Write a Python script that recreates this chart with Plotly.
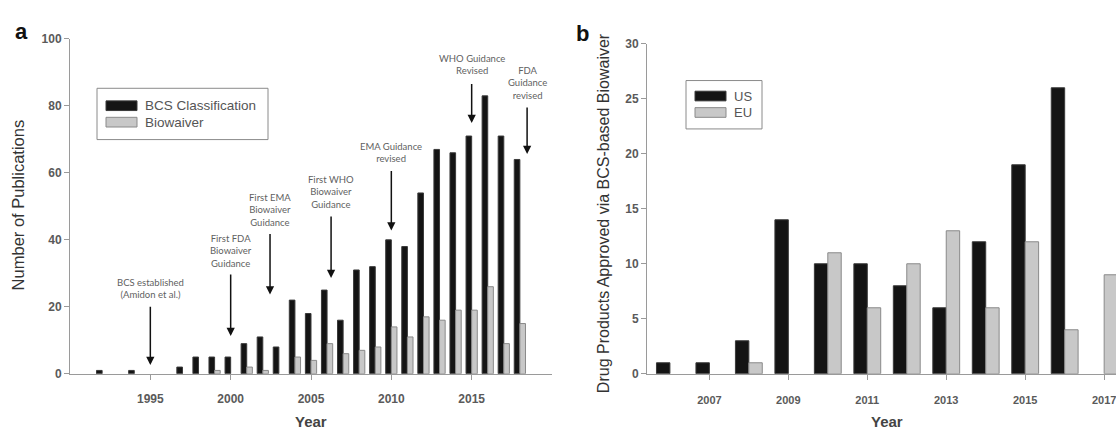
import plotly.graph_objects as go

W, H = 1116, 434

# ---------------- Panel a data ----------------
years_a = [1992, 1993, 1994, 1995, 1996, 1997, 1998, 1999, 2000, 2001, 2002, 2003, 2004,
           2005, 2006, 2007, 2008, 2009, 2010, 2011, 2012, 2013, 2014, 2015, 2016, 2017, 2018]
bcs_classification = [1, 0, 1, 0, 0, 2, 5, 5, 5, 9, 11, 8, 22,
                      18, 25, 16, 31, 32, 40, 38, 54, 67, 66, 71, 83, 71, 64]
biowaiver = [0, 0, 0, 0, 0, 0, 0, 1, 0, 2, 1, 0, 5,
             4, 9, 6, 7, 8, 14, 11, 17, 16, 19, 19, 26, 9, 15]
xticks_a = [1995, 2000, 2005, 2010, 2015]
yticks_a = [0, 20, 40, 60, 80, 100]

# events: label, x year, arrow tail value, arrow tip value, label centre value
event_labels = ["BCS established<br>(Amidon et al.)",
                "First FDA<br>Biowaiver<br>Guidance",
                "First EMA<br>Biowaiver<br>Guidance",
                "First WHO<br>Biowaiver<br>Guidance",
                "EMA Guidance<br>revised",
                "WHO Guidance<br>Revised",
                "FDA<br>Guidance<br>revised"]
event_x = [1995, 2000, 2002.45, 2006.25, 2010, 2015, 2018.45]
event_tail = [20.5, 30.1, 42.2, 47.4, 61.0, 87.0, 80.0]
event_tip = [2.6, 11.3, 23.7, 28.6, 42.8, 74.9, 65.6]
event_text_y = [25.4, 36.6, 49.0, 54.2, 66.0, 92.3, 86.9]

# ---------------- Panel b data ----------------
years_b = [2006, 2007, 2008, 2009, 2010, 2011, 2012, 2013, 2014, 2015, 2016, 2017]
us = [1, 1, 3, 14, 10, 10, 8, 6, 12, 19, 26, 0]
eu = [0, 0, 1, 0, 11, 6, 10, 13, 6, 12, 4, 9]
xticks_b = [2007, 2009, 2011, 2013, 2015, 2017]
yticks_b = [0, 5, 10, 15, 20, 25, 30]

BLACK = "#141414"
BLACK_LINE = "#3a3a3a"
GRAY = "#c8c8c8"
GRAY_LINE = "#8a8a8a"
AXIS = "#9a9a9a"
TICKTXT = "#5a5a5a"
FONT = "Liberation Sans, Arial, sans-serif"


def px_x(p):
    return p / W


def px_y(p):
    return 1 - p / H


def outline(vals):
    return [1 if v else 0 for v in vals]


fig = go.Figure()

bw = 0.35
fig.add_trace(go.Bar(x=years_a, y=bcs_classification, width=bw, offset=-bw,
                     marker=dict(color=BLACK, line=dict(color=BLACK_LINE,
                                                        width=outline(bcs_classification))),
                     xaxis="x", yaxis="y", name="BCS Classification", showlegend=False))
fig.add_trace(go.Bar(x=years_a, y=biowaiver, width=bw, offset=0,
                     marker=dict(color=GRAY, line=dict(color=GRAY_LINE,
                                                       width=outline(biowaiver))),
                     xaxis="x", yaxis="y", name="Biowaiver", showlegend=False))

bwb = 0.34
fig.add_trace(go.Bar(x=years_b, y=us, width=bwb, offset=-bwb,
                     marker=dict(color=BLACK, line=dict(color=BLACK_LINE, width=outline(us))),
                     xaxis="x2", yaxis="y2", name="US", showlegend=False))
fig.add_trace(go.Bar(x=years_b, y=eu, width=bwb, offset=0,
                     marker=dict(color=GRAY, line=dict(color=GRAY_LINE, width=outline(eu))),
                     xaxis="x2", yaxis="y2", name="EU", showlegend=False))

y_dom_a = [px_y(379), px_y(33)]
y_dom_b = [px_y(379), px_y(38)]

axis_common = dict(showline=True, linecolor=AXIS, linewidth=1, ticks="outside",
                   ticklen=5, tickcolor=AXIS, showgrid=False, zeroline=False)


def tf(size):
    return dict(family=FONT, size=size, color=TICKTXT, weight="bold")


fig.update_layout(
    width=W, height=H,
    margin=dict(l=0, r=0, t=0, b=0),
    paper_bgcolor="white", plot_bgcolor="white",
    barmode="overlay",
    showlegend=False,
    xaxis=dict(domain=[px_x(70), px_x(552)], range=[1990, 2020], anchor="y",
               tickmode="array", tickvals=xticks_a, tickfont=tf(12),
               ticklabelstandoff=9, **axis_common),
    yaxis=dict(domain=y_dom_a, range=[0, 100], anchor="x",
               tickmode="array", tickvals=yticks_a, tickfont=tf(12), **axis_common),
    xaxis2=dict(domain=[px_x(647), 1.0], range=[2005.42, 2017.3], anchor="y2",
                tickmode="array", tickvals=xticks_b,
                ticktext=[str(t) if t != 2017 else "" for t in xticks_b],
                tickfont=tf(11), ticklabelstandoff=11, **axis_common),
    yaxis2=dict(domain=y_dom_b, range=[0, 30], anchor="x2",
                tickmode="array", tickvals=yticks_b, tickfont=tf(12), **axis_common),
)

annotations = []
shapes = []

# last tick label of panel b (runs past the right edge, as in the original)
annotations.append(dict(x=xticks_b[-1], y=px_y(406), xref="x2", yref="paper",
                        text=str(xticks_b[-1]), showarrow=False, xanchor="center",
                        yanchor="middle", font=tf(11)))

# event arrows and labels (panel a)
for lab, xv, tail, tip, ty in zip(event_labels, event_x, event_tail, event_tip, event_text_y):
    annotations.append(dict(x=xv, y=tip, ax=xv, ay=tail, xref="x", yref="y",
                            axref="x", ayref="y", text="", showarrow=True,
                            arrowhead=2, arrowsize=1.1, arrowwidth=1.5, arrowcolor="#111",
                            standoff=0))
    annotations.append(dict(x=xv, y=ty, xref="x", yref="y", text=lab, showarrow=False,
                            xanchor="center", yanchor="middle", align="center",
                            font=dict(family="Lato, Open Sans, sans-serif", size=9.5,
                                      color="#5f5f5f")))

# panel letters
annotations.append(dict(x=px_x(21), y=px_y(25), xref="paper", yref="paper", text="<b>a</b>",
                        showarrow=False, xanchor="center", yanchor="middle",
                        font=dict(family=FONT, size=22, color="#111")))
annotations.append(dict(x=px_x(582), y=px_y(27), xref="paper", yref="paper", text="<b>b</b>",
                        showarrow=False, xanchor="center", yanchor="middle",
                        font=dict(family=FONT, size=22, color="#111")))

# axis titles
annotations.append(dict(x=px_x(18), y=px_y(205), xref="paper", yref="paper",
                        text="Number of Publications", textangle=-90, showarrow=False,
                        xanchor="center", yanchor="middle",
                        font=dict(family=FONT, size=16.5, color="#333")))
annotations.append(dict(x=px_x(603), y=px_y(213), xref="paper", yref="paper",
                        text="Drug Products Approved via BCS-based Biowaiver", textangle=-90,
                        showarrow=False, xanchor="center", yanchor="middle",
                        font=dict(family=FONT, size=16, color="#333")))
annotations.append(dict(x=px_x(311), y=px_y(428), xref="paper", yref="paper",
                        text="<b>Year</b>", showarrow=False, xanchor="center", yanchor="middle",
                        font=dict(family=FONT, size=15, color="#444")))
annotations.append(dict(x=px_x(887), y=px_y(428), xref="paper", yref="paper",
                        text="<b>Year</b>", showarrow=False, xanchor="center", yanchor="middle",
                        font=dict(family=FONT, size=15, color="#444")))


# legends (drawn manually to get the wide swatches of the original)
def legend_box(x0, y0, x1, y1, items, sw_x0, sw_x1, text_x, rows, fsize):
    shapes.append(dict(type="rect", xref="paper", yref="paper",
                       x0=px_x(x0), x1=px_x(x1), y0=px_y(y1), y1=px_y(y0),
                       line=dict(color="#8a8a8a", width=1), fillcolor="white", layer="above"))
    for (name, fill, line), (ry0, ry1) in zip(items, rows):
        shapes.append(dict(type="rect", xref="paper", yref="paper",
                           x0=px_x(sw_x0), x1=px_x(sw_x1), y0=px_y(ry1), y1=px_y(ry0),
                           line=dict(color=line, width=1), fillcolor=fill, layer="above"))
        annotations.append(dict(x=px_x(text_x), y=px_y((ry0 + ry1) / 2), xref="paper",
                                yref="paper", text=name, showarrow=False, xanchor="left",
                                yanchor="middle",
                                font=dict(family=FONT, size=fsize, color="#555")))


legend_box(97, 84, 268, 137,
           [("BCS Classification", BLACK, BLACK_LINE), ("Biowaiver", GRAY, GRAY_LINE)],
           106, 137, 143, [(97, 107), (114, 124)], 13.5)
legend_box(686, 76, 762, 126,
           [("US", BLACK, BLACK_LINE), ("EU", GRAY, GRAY_LINE)],
           695, 726, 732, [(87, 97), (104, 114)], 13)

fig.update_layout(annotations=annotations, shapes=shapes)

fig.write_html("out.html")
